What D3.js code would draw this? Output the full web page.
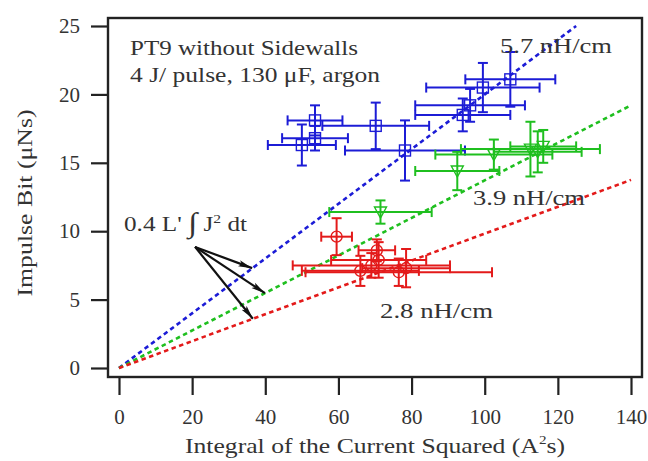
<!DOCTYPE html>
<html><head><meta charset="utf-8">
<script src="https://cdn.jsdelivr.net/npm/d3@7"></script>
<style>body{margin:0;background:#fff}</style>
</head><body>
<svg id="c" width="648" height="461"></svg>
<script>
// ---------- data ----------
const xTicks = [0, 20, 40, 60, 80, 100, 120, 140];
const yTicks = [0, 5, 10, 15, 20, 25];

// blue: 5.7 nH/cm (squares)
const blueX    = [53.6, 50.0, 53.6, 70.2, 78.2, 94.0, 96.0, 99.5, 107.0];
const blueY    = [18.1, 16.3, 16.8, 17.7, 15.9, 18.5, 19.2, 20.5, 21.1];
const blueXErr = [7.5, 9.3, 9.0, 14.6, 16.4, 13.0, 15.0, 15.5, 12.3];
const blueYErr = [1.1, 1.5, 0.9, 1.7, 2.2, 1.2, 1.2, 1.8, 2.0];

// green: 3.9 nH/cm (triangles)
const greenX    = [92.5, 102.5, 112.5, 114.5, 116.0, 71.5];
const greenY    = [14.4, 15.6, 16.0, 15.8, 16.2, 11.4];
const greenXErr = [11.5, 16.0, 19.0, 12.0, 9.0, 14.0];
const greenYErr = [1.4, 1.1, 2.0, 1.5, 1.2, 0.85];

// red: 2.8 nH/cm (circles)
const redX    = [59.5, 70.5, 66.0, 78.5, 76.5, 69.0, 71.0];
const redY    = [9.6, 8.6, 7.1, 7.3, 7.0, 7.5, 7.9];
const redXErr = [4.2, 5.0, 16.0, 12.0, 25.5, 21.5, 13.0];
const redYErr = [1.35, 0.8, 1.1, 1.4, 1.0, 0.9, 1.3];

// fit lines (endpoints)
const blueFitX = [0, 125],  blueFitY = [0, 25.0];
const greenFitX = [0, 140], greenFitY = [0, 19.2];
const redFitX = [0, 140],   redFitY = [0, 13.75];

// annotation arrows: start and tips (data coords)
const arrowStart = [20.8, 8.85];
const arrowTipX = [36.4, 39.9, 36.6];
const arrowTipY = [7.3, 5.47, 3.6];

// ---------- layout ----------
const svg = d3.select("#c");
const F = "'Liberation Serif', 'Times New Roman', serif";
const frame = {l: 108, t: 18, r: 642, b: 377};
const x = d3.scaleLinear().domain([0, 140]).range([119, 631]);
const y = d3.scaleLinear().domain([0, 25]).range([368, 26]);
const C = {blue: "#1c1cd6", green: "#1fbf1f", red: "#e31a1a"};

function fit(sel, w) {
  sel.attr("textLength", w).attr("lengthAdjust", "spacingAndGlyphs");
  return sel;
}

// axes
const ya = svg.append("g").attr("transform", `translate(${frame.l},0)`)
  .call(d3.axisLeft(y).tickValues(yTicks).tickSize(17).tickPadding(11).tickFormat(d3.format("d")));
const xa = svg.append("g").attr("transform", `translate(0,${frame.b + 1})`)
  .call(d3.axisBottom(x).tickValues(xTicks).tickSize(17).tickPadding(14).tickFormat(d3.format("d")));
[ya, xa].forEach(g => {
  g.select(".domain").remove();
  g.selectAll(".tick line").attr("stroke", "#222").attr("stroke-width", 2.2);
  g.selectAll(".tick text").attr("font-family", F).attr("font-size", 21).attr("fill", "#333");
});

// frame
svg.append("rect").attr("x", frame.l).attr("y", frame.t)
  .attr("width", frame.r - frame.l).attr("height", frame.b - frame.t)
  .attr("fill", "none").attr("stroke", "#222").attr("stroke-width", 2.4);

// fit lines
const line = d3.line().x(d => x(d[0])).y(d => y(d[1]));
[[blueFitX, blueFitY, C.blue], [greenFitX, greenFitY, C.green], [redFitX, redFitY, C.red]]
  .forEach(([fx, fy, col]) => {
    svg.append("path").datum(fx.map((v, i) => [v, fy[i]])).attr("d", line)
      .attr("fill", "none").attr("stroke", col).attr("stroke-width", 2.6)
      .attr("stroke-dasharray", "4.5,3.5");
  });

// error bars + markers
function series(X, Y, XE, YE, col, marker) {
  const g = svg.append("g").attr("stroke", col).attr("stroke-width", 2).attr("fill", "none");
  const cap = 5;
  X.forEach((xv, i) => {
    const px = x(xv), py = y(Y[i]);
    const x0 = x(xv - XE[i]), x1 = x(xv + XE[i]);
    const y0 = y(Y[i] - YE[i]), y1 = y(Y[i] + YE[i]);
    g.append("line").attr("x1", x0).attr("x2", x1).attr("y1", py).attr("y2", py);
    g.append("line").attr("x1", x0).attr("x2", x0).attr("y1", py - cap).attr("y2", py + cap);
    g.append("line").attr("x1", x1).attr("x2", x1).attr("y1", py - cap).attr("y2", py + cap);
    g.append("line").attr("x1", px).attr("x2", px).attr("y1", y0).attr("y2", y1);
    g.append("line").attr("y1", y0).attr("y2", y0).attr("x1", px - cap).attr("x2", px + cap);
    g.append("line").attr("y1", y1).attr("y2", y1).attr("x1", px - cap).attr("x2", px + cap);
    if (marker === "square") {
      g.append("rect").attr("x", px - 5.5).attr("y", py - 5.5).attr("width", 11).attr("height", 11)
        .attr("stroke-width", 1.4);
    } else if (marker === "circle") {
      g.append("circle").attr("cx", px).attr("cy", py).attr("r", 5.5).attr("stroke-width", 1.4);
    } else {
      g.append("path").attr("d", `M${px - 6},${py - 5}L${px + 6},${py - 5}L${px},${py + 6}Z`)
        .attr("stroke-width", 1.4);
    }
  });
}
series(blueX, blueY, blueXErr, blueYErr, C.blue, "square");
series(greenX, greenY, greenXErr, greenYErr, C.green, "triangle");
series(redX, redY, redXErr, redYErr, C.red, "circle");

// arrows
svg.append("defs").append("marker").attr("id", "ah").attr("viewBox", "0 0 14 8")
  .attr("refX", 14).attr("refY", 4).attr("markerWidth", 14).attr("markerHeight", 8)
  .attr("markerUnits", "userSpaceOnUse").attr("orient", "auto")
  .append("path").attr("d", "M0,0.8L14,4L0,7.2L3,4Z").attr("fill", "#111");
arrowTipX.forEach((tx, i) => {
  svg.append("line").attr("x1", x(arrowStart[0])).attr("y1", y(arrowStart[1]))
    .attr("x2", x(tx)).attr("y2", y(arrowTipY[i]))
    .attr("stroke", "#111").attr("stroke-width", 2.2).attr("marker-end", "url(#ah)");
});

// texts
function txt(s, px, py, size, w, anchor) {
  const t = svg.append("text").attr("x", px).attr("y", py).attr("font-family", F)
    .attr("font-size", size).attr("fill", "#333").attr("text-anchor", anchor || "start").text(s);
  if (w) fit(t, w);
  return t;
}
txt("PT9 without Sidewalls", 130, 55, 22, 228);
txt("4 J/ pulse, 130 μF, argon", 130, 82, 22, 250);
txt("5.7 nH/cm", 500, 53, 22, 112);
txt("3.9 nH/cm", 473, 205, 22, 112);
txt("2.8 nH/cm", 380, 318, 22, 113);

// 0.4 L' ∫ J² dt
const ann = svg.append("text").attr("x", 124).attr("y", 231).attr("font-family", F)
  .attr("font-size", 21).attr("fill", "#333");
ann.append("tspan").text("0.4 L' ");
ann.append("tspan").attr("font-size", 28).attr("dy", 1).text("∫");
ann.append("tspan").attr("dy", -1).text(" J");
ann.append("tspan").attr("font-size", 13).attr("dy", -8).text("2");
ann.append("tspan").attr("dy", 8).text(" dt");
fit(ann, 123);

// x title
const xt = svg.append("text").attr("x", 375).attr("y", 453).attr("font-family", F)
  .attr("font-size", 22).attr("fill", "#333").attr("text-anchor", "middle");
xt.append("tspan").text("Integral of the Current Squared (A");
xt.append("tspan").attr("font-size", 13).attr("dy", -9).text("2");
xt.append("tspan").attr("dy", 9).text("s)");
fit(xt, 380);

// y title
const yt = svg.append("text").attr("transform", "translate(32,203) rotate(-90)")
  .attr("font-family", F).attr("font-size", 22).attr("fill", "#333")
  .attr("text-anchor", "middle").text("Impulse Bit (μNs)");
fit(yt, 187);
</script>
</body></html>
